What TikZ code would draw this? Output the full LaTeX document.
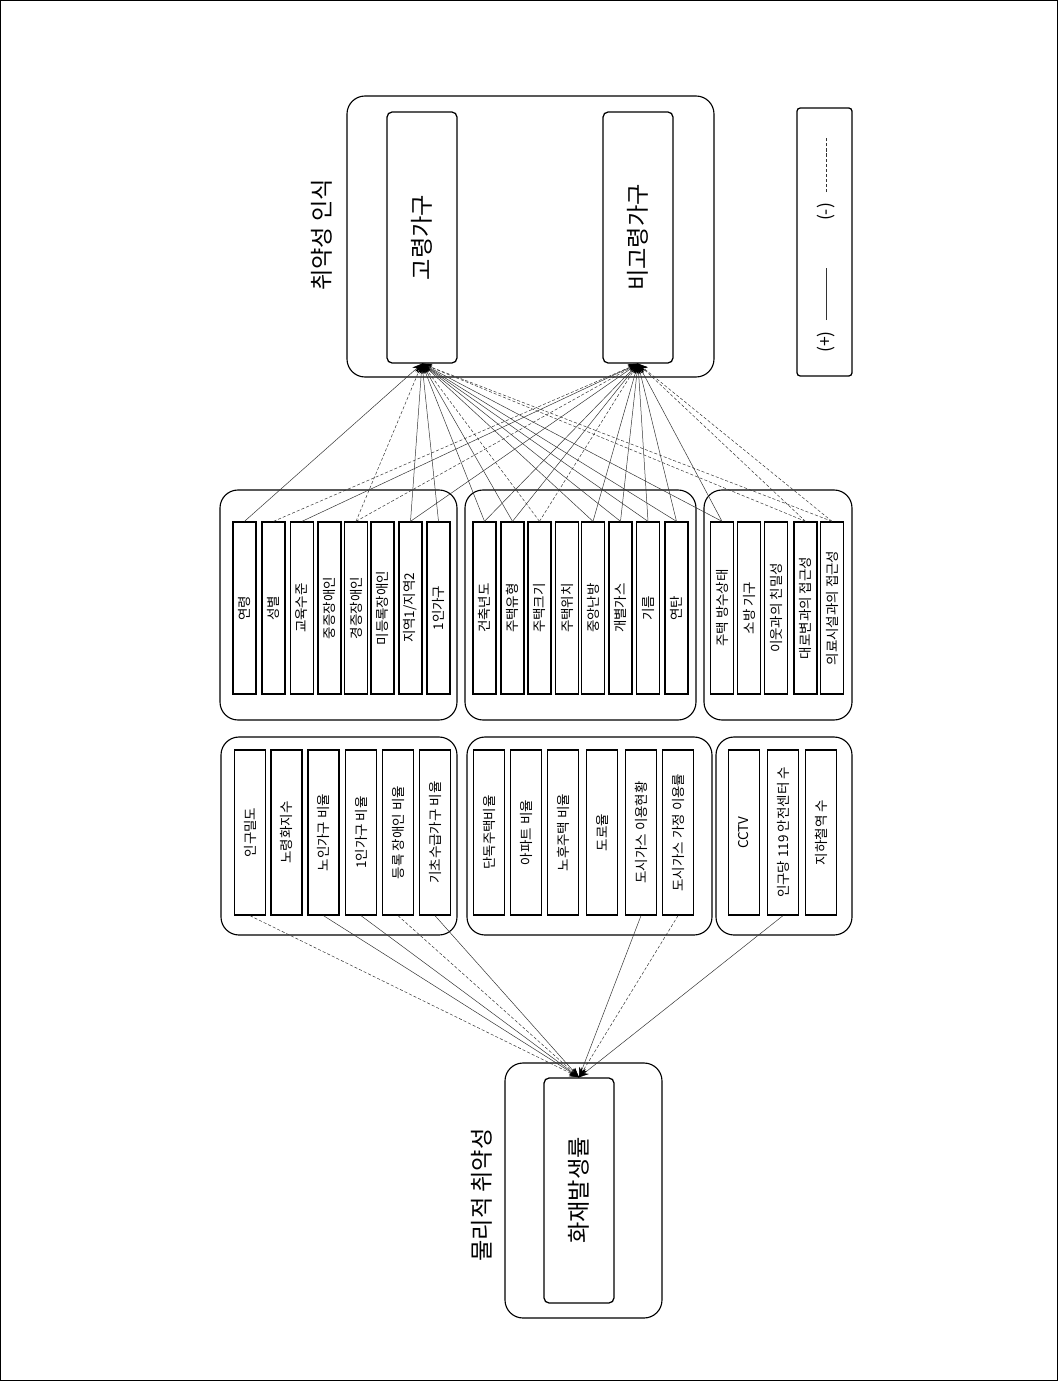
\documentclass[tikz,border=0pt]{standalone}
\usepackage{fontspec}
\setmainfont{Noto Sans CJK KR}
\usetikzlibrary{arrows.meta}

\begin{document}
\begin{tikzpicture}[
    x=0.025cm, y=-0.025cm,
    >={Stealth[length=7pt,width=5pt,color=black]},
    font=\fontsize{9.6}{11}\selectfont,
    grp/.style={draw, line width=0.8pt, rounded corners=0.45cm},
    item/.style={draw, line width=0.9pt, rotate=90, inner sep=0pt, minimum width=4.3cm, minimum height=0.575cm},
    lowitem/.style={item, minimum width=4.125cm, minimum height=0.775cm},
    target/.style={draw, line width=0.9pt, rotate=90, rounded corners=0.13cm, minimum width=6.275cm, minimum height=1.75cm, font=\fontsize{16.5}{19}\selectfont},
    heading/.style={rotate=90, font=\fontsize{16.5}{19}\selectfont},
    plusline/.style={draw=black!80, line width=0.35pt},
    minusline/.style={plusline, dash pattern=on 2.2pt off 1.4pt}
]
\useasboundingbox (0,0) rectangle (1058,1381);
\draw[line width=0.6pt] (0.5,0.5) rectangle (1057.5,1380.5);

% outcome groups
\draw[grp] (347,96) rectangle (714,377);
\node[heading] (perception) at (322,235) {취약성 인식};
\node[target] (old) at (422,237.5) {고령가구};
\node[target] (young) at (638,237.5) {비고령가구};

\draw[grp] (505,1063) rectangle (662,1318);
\node[heading] (physical) at (482,1195) {물리적 취약성};
\node[target, minimum width=5.625cm] (fire) at (579,1190.5) {화재발생률};

% legend
\draw[line width=0.9pt, rounded corners=0.08cm] (797,108) rectangle (852,376);
\node[rotate=90, font=\fontsize{12.5}{14}\selectfont] (plus) at (826,342) {(+)};
\node[rotate=90, font=\fontsize{12.5}{14}\selectfont] (minus) at (826,212) {(-)};
\coordinate (plusA) at (826,320);
\coordinate (plusB) at (826,268);
\coordinate (minusA) at (826,192);
\coordinate (minusB) at (826,137);
\draw[plusline] (plusA) -- (plusB);
\draw[minusline] (minusA) -- (minusB);

% upper row: household items
\draw[grp] (220,490) rectangle (457,720);
\node[item] (age) at (244.5,608) {연령};
\node[item] (sex) at (273.5,608) {성별};
\node[item] (edu) at (302,608) {교육수준};
\node[item] (sevdis) at (329.5,608) {중증장애인};
\node[item] (milddis) at (356,608) {경증장애인};
\node[item] (unregdis) at (382.5,608) {미등록장애인};
\node[item] (region) at (410.5,608) {지역1/지역2};
\node[item] (single) at (438.5,608) {1인가구};

\draw[grp] (465,490) rectangle (696,720);
\node[item] (bldyear) at (484.5,608) {건축년도};
\node[item] (htype) at (512.5,608) {주택유형};
\node[item] (hsize) at (539.5,608) {주택크기};
\node[item] (hloc) at (567,608) {주택위치};
\node[item] (central) at (593,608) {중앙난방};
\node[item] (indgas) at (620.5,608) {개별가스};
\node[item] (oil) at (648,608) {기름};
\node[item] (coal) at (676.5,608) {연탄};

\draw[grp] (704,490) rectangle (852,720);
\node[item] (waterproof) at (722,608) {주택 방수상태};
\node[item] (extinguisher) at (749,608) {소방 기구};
\node[item] (neighbor) at (776,608) {이웃과의 친밀성};
\node[item] (road) at (805.5,608) {대로변과의 접근성};
\node[item] (medical) at (832,608) {의료시설과의 접근성};

% lower row: regional items
\draw[grp] (221,737) rectangle (457,935);
\node[lowitem] (popden) at (250,832.5) {인구밀도};
\node[lowitem] (aging) at (286.5,832.5) {노령화지수};
\node[lowitem] (elderhh) at (323.5,832.5) {노인가구 비율};
\node[lowitem] (singlehh) at (361,832.5) {1인가구 비율};
\node[lowitem] (disabled) at (398,832.5) {등록 장애인 비율};
\node[lowitem] (welfare) at (435,832.5) {기초수급가구 비율};

\draw[grp] (467,737) rectangle (712,935);
\node[lowitem] (detached) at (489,832.5) {단독주택비율};
\node[lowitem] (apt) at (526,832.5) {아파트 비율};
\node[lowitem] (oldhouse) at (563,832.5) {노후주택 비율};
\node[lowitem] (roadrate) at (602,832.5) {도로율};
\node[lowitem] (gasuse) at (641,832.5) {도시가스 이용현황};
\node[lowitem] (gashome) at (678,832.5) {도시가스 가정 이용률};

\draw[grp] (716,737) rectangle (852,935);
\node[lowitem] (cctv) at (744,832.5) {CCTV};
\node[lowitem] (station) at (783,832.5) {인구당 119 안전센터 수};
\node[lowitem] (subway) at (821,832.5) {지하철역 수};

% links to 고령가구
\path[->]
(age.east) edge[plusline] (old.west)
(milddis.east) edge[minusline] (old.west)
(region.east) edge[plusline] (old.west)
(single.east) edge[plusline] (old.west)
(bldyear.east) edge[plusline] (old.west)
(htype.east) edge[plusline] (old.west)
(hsize.east) edge[minusline] (old.west)
(central.east) edge[plusline] (old.west)
(indgas.east) edge[plusline] (old.west)
(oil.east) edge[plusline] (old.west)
(coal.east) edge[plusline] (old.west)
(waterproof.east) edge[plusline] (old.west)
(road.east) edge[minusline] (old.west)
(medical.east) edge[minusline] (old.west);

% links to 비고령가구
\path[->]
(sex.east) edge[minusline] (young.west)
(edu.east) edge[plusline] (young.west)
(milddis.east) edge[minusline] (young.west)
(region.east) edge[plusline] (young.west)
(bldyear.east) edge[plusline] (young.west)
(htype.east) edge[plusline] (young.west)
(hsize.east) edge[minusline] (young.west)
(central.east) edge[plusline] (young.west)
(indgas.east) edge[plusline] (young.west)
(oil.east) edge[plusline] (young.west)
(coal.east) edge[plusline] (young.west)
(waterproof.east) edge[plusline] (young.west)
(road.east) edge[minusline] (young.west)
(medical.east) edge[minusline] (young.west);

% links to 화재발생률
\path[->]
(popden.west) edge[minusline] (fire.east)
(elderhh.west) edge[plusline] (fire.east)
(singlehh.west) edge[plusline] (fire.east)
(disabled.west) edge[minusline] (fire.east)
(welfare.west) edge[plusline] (fire.east)
(gasuse.west) edge[plusline] (fire.east)
(gashome.west) edge[minusline] (fire.east)
(station.west) edge[plusline] (fire.east);
\end{tikzpicture}
\end{document}
